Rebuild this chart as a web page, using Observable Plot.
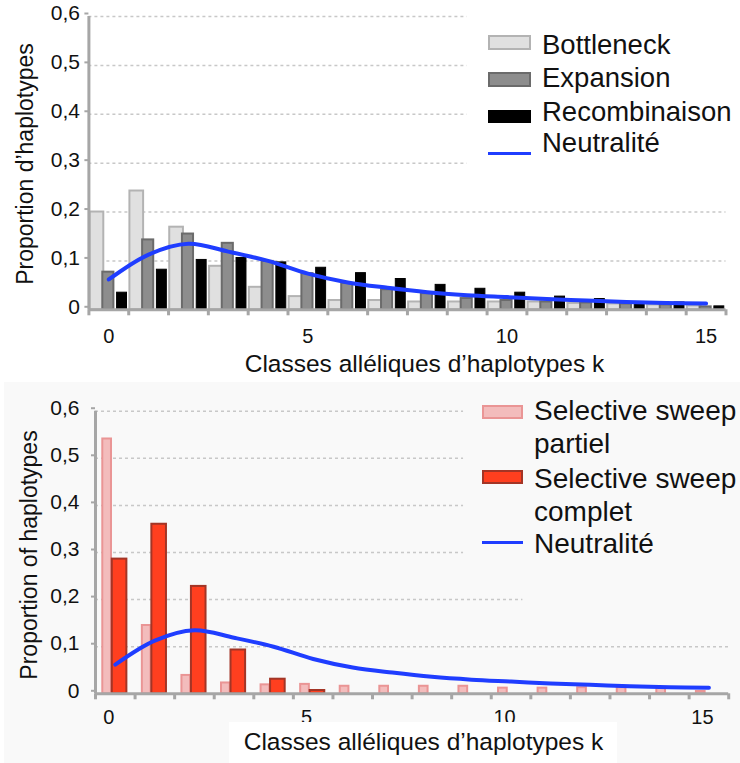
<!DOCTYPE html>
<html lang="fr">
<head>
<meta charset="utf-8">
<script src="https://cdn.jsdelivr.net/npm/d3@7"></script>
<script src="https://cdn.jsdelivr.net/npm/@observablehq/plot@0.6"></script>
<style>
  html, body { margin: 0; padding: 0; background: #fff; }
  body {
    width: 740px; height: 763px; position: relative; overflow: hidden;
    font-family: "Liberation Sans", Arial, Helvetica, sans-serif; color: #111;
  }
  .abs { position: absolute; white-space: nowrap; }
  .panel svg { overflow: visible; }
  .ytitle { transform: translate(-50%, -50%) rotate(-90deg); font-size: 23px; line-height: 23px; }
  .xtitle { font-size: 24.5px; line-height: 24.5px; transform: translateX(-50%); }
  .legtext { white-space: pre-line; }
</style>
</head>
<body>
<div id="top" class="abs panel" style="left:0;top:0;width:740px;height:382px;"></div>
<div id="bottom" class="abs panel" style="left:4px;top:382px;width:736px;height:381px;background:#f9f9f9;"></div>
<div id="overlay"></div>
<script>
// Allelic classes of haplotypes (k) and axis ticks
const classes = [0, 1, 2, 3, 4, 5, 6, 7, 8, 9, 10, 11, 12, 13, 14, 15];
const xTickLabels = [0, 5, 10, 15];
const yTicks = [0, 0.1, 0.2, 0.3, 0.4, 0.5, 0.6];
const yTickLabels = ["0", "0,1", "0,2", "0,3", "0,4", "0,5", "0,6"];

// Demographic scenarios (upper panel)
const bottleneck    = [0.200, 0.243, 0.169, 0.089, 0.046, 0.027, 0.019, 0.019, 0.016, 0.016, 0.016, 0.016, 0.013, 0.012, 0.010, 0.008];
const expansion     = [0.077, 0.143, 0.155, 0.136, 0.099, 0.074, 0.054, 0.041, 0.033, 0.023, 0.019, 0.016, 0.014, 0.012, 0.010, 0.006];
const recombinaison = [0.035, 0.082, 0.102, 0.106, 0.097, 0.086, 0.075, 0.063, 0.051, 0.043, 0.035, 0.027, 0.022, 0.016, 0.015, 0.007];

// Selective sweeps (lower panel)
const sweepPartiel = [0.541, 0.145, 0.039, 0.023, 0.019, 0.020, 0.016, 0.016, 0.016, 0.016, 0.012, 0.012, 0.013, 0.013, 0.013, 0.005];
const sweepComplet = [0.286, 0.360, 0.228, 0.093, 0.031, 0.007, 0, 0, 0, 0, 0, 0, 0, 0, 0, 0];

// Neutral expectation
const neutralite = [0.062, 0.113, 0.135, 0.119, 0.100, 0.074, 0.056, 0.045, 0.036, 0.030, 0.026, 0.022, 0.019, 0.016, 0.014, 0.013];

const topLegend = ["Bottleneck", "Expansion", "Recombinaison", "Neutralité"];
const bottomLegend = ["Selective sweep\npartiel", "Selective sweep\ncomplet", "Neutralité"];
const topYTitle = "Proportion d’haplotypes";
const bottomYTitle = "Proportion of haplotypes";
const xTitle = "Classes alléliques d’haplotypes k";

const FONT = '"Liberation Sans", Arial, Helvetica, sans-serif';
const AXIS = "#a6a6a6";
const GRID = "#c8c8c8";
const BLUE = "#1f3dff";
const C = {
  bottleneck: {fill: "#e0e0e0", stroke: "#b3b3b3"},
  expansion: {fill: "#8d8d8d", stroke: "#6b6b6b"},
  recombinaison: {fill: "#000000", stroke: "#000000"},
  partiel: {fill: "#f3bcbc", stroke: "#ea9595"},
  complet: {fill: "#ff3f1f", stroke: "#a33526"}
};

const topRows = classes.map((k, i) => ({k, bottleneck: bottleneck[i], expansion: expansion[i], recombinaison: recombinaison[i], neutralite: neutralite[i]}));
const bottomRows = classes.map((k, i) => ({k, partiel: sweepPartiel[i], complet: sweepComplet[i], neutralite: neutralite[i]}));
const edges = classes.concat([classes.length]).map(k => k - 0.5);

// one bar per class, placed at a fraction [a, b] of the class band
function bars(rows, field, a, b, sw) {
  return Plot.rect(rows.filter(d => d[field] > 0), {
    x1: d => d.k - 0.5 + a, x2: d => d.k - 0.5 + b,
    y1: 0, y2: field,
    fill: C[field].fill, stroke: C[field].stroke, strokeWidth: sw
  });
}

function frameMarks(gridEnd, yPad, xPad, xDx) {
  return {
    grid: Plot.ruleY(yTicks.filter(v => v > 0), {
      x1: -0.5, x2: gridEnd, stroke: GRID, strokeWidth: 1.5, strokeDasharray: "3,3"
    }),
    axes: [
      Plot.ruleX([-0.5], {y1: 0, y2: 0.6, stroke: AXIS, strokeWidth: 3}),
      Plot.ruleY([0], {x1: -0.5, x2: 15.5, stroke: AXIS, strokeWidth: 3}),
      Plot.axisX(edges, {tickSize: 6, tickFormat: () => "", stroke: AXIS, strokeWidth: 3, label: null}),
      Plot.axisX(xTickLabels, {tickSize: 0, tickPadding: xPad, dx: xDx, fontSize: 20, fill: "#111", label: null}),
      Plot.axisY(yTicks, {
        tickSize: 4, tickPadding: yPad, stroke: AXIS, strokeWidth: 2, fontSize: 21, fill: "#111", dy: -3,
        tickFormat: d => yTickLabels[yTicks.indexOf(d)], label: null
      })
    ]
  };
}

// Upper panel: demographic scenarios
{
  const f = frameMarks(v => (v >= 0.3 ? 9 : 15.5), 5, 19, 0);
  const chart = Plot.plot({
    width: 740, height: 382,
    marginTop: 16, marginBottom: 72.7, marginLeft: 88.4, marginRight: 14.5,
    x: {type: "linear", domain: [-0.5, 15.5], label: null},
    y: {domain: [0, 0.6], label: null},
    style: {fontFamily: FONT, fontSize: "20px", background: "transparent", color: "#111"},
    marks: [
      f.grid,
      bars(topRows, "bottleneck", 0.030, 0.374, 2),
      bars(topRows, "expansion", 0.349, 0.628, 2),
      bars(topRows, "recombinaison", 0.708, 0.957, 1),
      ...f.axes,
      Plot.line(topRows, {x: "k", y: "neutralite", curve: "catmull-rom", stroke: BLUE, strokeWidth: 4, strokeLinecap: "round"})
    ]
  });
  document.getElementById("top").appendChild(chart);
}

// Lower panel: selective sweeps
{
  const f = frameMarks(v => (v >= 0.3 ? 8.8 : v >= 0.2 ? 10.3 : 15.5), 12, 16, -6.5);
  const chart = Plot.plot({
    width: 736, height: 381,
    marginTop: 28.7, marginBottom: 69.7, marginLeft: 91, marginRight: 11.8,
    x: {type: "linear", domain: [-0.5, 15.5], label: null},
    y: {domain: [0, 0.6], label: null},
    style: {fontFamily: FONT, fontSize: "20px", background: "transparent", color: "#111"},
    marks: [
      f.grid,
      bars(bottomRows, "partiel", 0.184, 0.404, 2),
      bars(bottomRows, "complet", 0.424, 0.793, 2),
      ...f.axes,
      Plot.line(bottomRows, {x: "k", y: "neutralite", curve: "catmull-rom", stroke: BLUE, strokeWidth: 4, strokeLinecap: "round"})
    ]
  });
  document.getElementById("bottom").appendChild(chart);
}

// Titles and legends
const overlay = document.getElementById("overlay");
function el(html, style, cls) {
  const d = document.createElement("div");
  d.className = "abs " + (cls || "");
  d.setAttribute("style", style);
  d.textContent = html;
  overlay.appendChild(d);
  return d;
}

el(topYTitle, "left:25px;top:164px;", "ytitle");
el(bottomYTitle, "left:29px;top:555px;", "ytitle");
el(xTitle, "left:424.5px;top:351.8px;", "xtitle");
el("", "left:229px;top:721.7px;width:388px;height:41.3px;background:#fff;");
el(xTitle, "left:423.5px;top:730.3px;", "xtitle");

// upper legend
{
  const swatches = [C.bottleneck, C.expansion, C.recombinaison];
  const swTop = [35, 72.3, 110];
  const swH = [15, 15, 13.3];
  const base = [54.3, 87.7, 121.7, 152.7];
  topLegend.forEach((name, i) => {
    if (i < 3) {
      el("", `left:488px;top:${swTop[i]}px;width:43px;height:${swH[i]}px;box-sizing:border-box;background:${swatches[i].fill};border:${i < 2 ? 2 : 1}px solid ${swatches[i].stroke};`);
    } else {
      el("", `left:488px;top:151.8px;width:43px;height:3px;background:${BLUE};`);
    }
    el(name, `left:542px;top:${base[i] - 23.3}px;font-size:27.5px;line-height:27.5px;`);
  });
}

// lower legend
{
  const swatches = [C.partiel, C.complet];
  const swTop = [405, 470];
  const base = [420, 488, 553];
  bottomLegend.forEach((name, i) => {
    if (i < 2) {
      el("", `left:481.7px;top:${swTop[i]}px;width:41px;height:14.3px;box-sizing:border-box;background:${swatches[i].fill};border:2px solid ${swatches[i].stroke};`);
    } else {
      el("", `left:481.7px;top:540.6px;width:41px;height:3.5px;background:${BLUE};`);
    }
    el(name, `left:534px;top:${base[i] - 26.2}px;font-size:28px;line-height:33px;`, "legtext");
  });
}
</script>
</body>
</html>
